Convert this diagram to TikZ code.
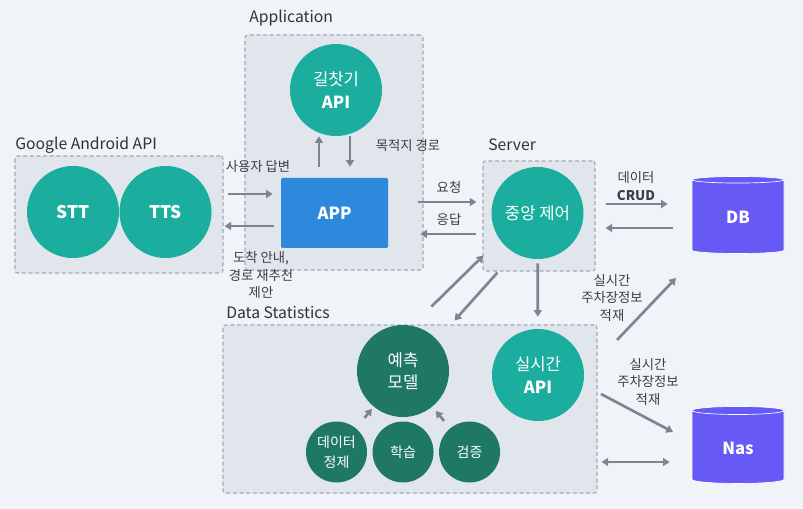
\documentclass[tikz,border=0pt]{standalone}
\usepackage{fontspec}
\setmainfont{Noto Sans CJK KR}
\usepackage{tikz}
\usetikzlibrary{arrows.meta,positioning,fit,calc,shapes.geometric}
\definecolor{canvasbg}{HTML}{F0F3F7}
\definecolor{groupfill}{HTML}{E1E5EC}
\definecolor{groupline}{HTML}{A3AAB3}
\definecolor{tealapi}{HTML}{1BAE9F}
\definecolor{darkmodel}{HTML}{1F7766}
\definecolor{appblue}{HTML}{2E88DB}
\definecolor{storepurple}{HTML}{6759F6}
\definecolor{flowgray}{HTML}{7B8692}
\definecolor{titletext}{HTML}{2E343D}
\definecolor{labeltext}{HTML}{3A3F47}
\tikzset{
  groupbox/.style={
    draw=groupline,
    fill=groupfill,
    dash pattern=on 3pt off 2pt,
    line width=0.8pt,
    rounded corners=2pt,
    inner sep=0pt
  },
  grouptitle/.style={anchor=west, inner sep=0pt, text=titletext, font=\fontsize{11.8}{14}\selectfont},
  apicircle/.style={
    circle,
    fill=tealapi,
    text=white,
    minimum size=69pt,
    inner sep=0pt,
    align=center,
    font=\fontsize{12.5}{17}\selectfont
  },
  modelcircle/.style={apicircle, fill=darkmodel},
  stagecircle/.style={modelcircle, minimum size=45.75pt, font=\fontsize{10.5}{15}\selectfont},
  appbox/.style={
    fill=appblue,
    text=white,
    rounded corners=1pt,
    minimum width=80.25pt,
    minimum height=52.5pt,
    font=\bfseries\fontsize{12.5}{15}\selectfont
  },
  storecyl/.style={
    cylinder,
    shape border rotate=90,
    aspect=0.2,
    draw=white,
    line width=0.5pt,
    fill=storepurple,
    text=white,
    minimum width=69pt,
    minimum height=57.75pt,
    font=\bfseries\fontsize{12.5}{15}\selectfont
  },
  flow/.style={-{Triangle[length=5pt,width=6pt]}, line width=2pt, draw=flowgray},
  twoflow/.style={flow, {Triangle[length=5pt,width=6pt]}-{Triangle[length=5pt,width=6pt]}},
  flowlabel/.style={text=labeltext, align=center, font=\fontsize{10}{13}\selectfont}
}

\begin{document}
\begin{tikzpicture}[x=0.75pt, y=-0.75pt]
\useasboundingbox[fill=canvasbg] (0,0) rectangle (803,509);

% groups
\node[groupbox, fit={(245,35) (423,270)}] (appgrp) {};
\node[groupbox, fit={(15,156) (223,273)}] (gagrp) {};
\node[groupbox, fit={(483,161) (595,271)}] (srvgrp) {};
\node[groupbox, fit={(223,325) (597,493)}] (dsgrp) {};
\node[grouptitle] (apptitle) at (249,18) {Application};
\node[grouptitle] (gatitle) at (15,145) {Google Android API};
\node[grouptitle] (srvtitle) at (488,145) {Server};
\node[grouptitle] (dstitle) at (226,313) {Data Statistics};

% components
\node[apicircle] (findapi) at (336,90) {길찻기\\\textbf{API}};
\node[apicircle, font=\bfseries\fontsize{13}{15}\selectfont] (stt) at (73,212) {STT};
\node[apicircle, font=\bfseries\fontsize{13}{15}\selectfont, right=0pt of stt] (tts) {TTS};
\node[appbox] (app) at (334.5,213) {APP};
\node[apicircle] (ctrl) at (537.5,213) {중앙 제어};
\node[storecyl] (db) at (738,217.5) {DB};
\node[storecyl] (nas) at (738,448) {Nas};
\node[modelcircle] (model) at (403,371) {예측\\모델};
\node[apicircle] (rtapi) at (538,375) {실시간\\\textbf{API}};
\node[stagecircle] (clean) at (336.5,452) {데이터\\정제};
\node[stagecircle, right=3.75pt of clean] (train) {학습};
\node[stagecircle, right=3.75pt of train] (verify) {검증};

% labels
\node[flowlabel] (answerlbl) at (258,167) {사용자 답변};
\node[flowlabel] (guidelbl) at (261,275) {도착 안내,\\경로 재추천\\제안};
\node[flowlabel] (routelbl) at (408,146) {목적지 경로};
\node[flowlabel] (reqlbl) at (449,187) {요청};
\node[flowlabel] (resplbl) at (449,220) {응답};
\node[flowlabel] (crudlbl) at (636,186) {데이터\\\textbf{CRUD}};
\node[flowlabel] (dbloadlbl) at (612,298) {실시간\\주차장정보\\적재};
\node[flowlabel] (nasloadlbl) at (648,382) {실시간\\주차장정보\\적재};

% app side
\draw[flow, shorten <=3pt, shorten >=6pt] (gagrp.east |- 0,194) -- (app.west |- 0,194);
\draw[flow, shorten <=5pt, shorten >=0.75pt] (app.west |- 0,226) -- (gagrp.east |- 0,226);
\draw[flow, shorten <=8.25pt] (app.north -| 319,0) -- (findapi.south -| 319,0);
\draw[flow, shorten >=8.25pt] (findapi.south -| 350,0) -- (app.north -| 350,0);
\draw[flow, shorten <=22.5pt, shorten >=4.5pt] (app.east |- 0,202) -- (srvgrp.west |- 0,202);
\draw[flow, shorten <=4.5pt, shorten >=24pt] (srvgrp.west |- 0,234) -- (app.east |- 0,234);

% server side
\draw[flow, shorten <=7.5pt, shorten >=18pt] (srvgrp.east |- 0,204) -- (db.west |- 0,204);
\draw[flow, shorten <=14.25pt, shorten >=7.5pt] (db.west |- 0,228) -- (srvgrp.east |- 0,228);
\draw[flow] ($(srvgrp.south west)+(-51,35)$) -- ($(srvgrp.south west)+(1,-16)$);
\draw[flow] ($(srvgrp.south west)+(15,1)$) -- ($(srvgrp.south west)+(-28,49)$);
\draw[flow, shorten <=3pt, shorten >=9pt] (ctrl) -- (rtapi);

% statistics side
\draw[flow] ($(rtapi)+(79,-35)$) -- ($(db)+(-62,60.5)$);
\draw[flow] ($(rtapi)+(63,19)$) -- ($(nas)+(-65,-16)$);
\draw[twoflow, shorten <=3pt, shorten >=16.5pt] (dsgrp.east |- 0,462) -- (nas.west |- 0,462);
\draw[flow, shorten <=10pt, shorten >=2pt] (clean) -- (model);
\draw[flow, shorten <=7pt, shorten >=4pt] (verify) -- (model);
\end{tikzpicture}
\end{document}
